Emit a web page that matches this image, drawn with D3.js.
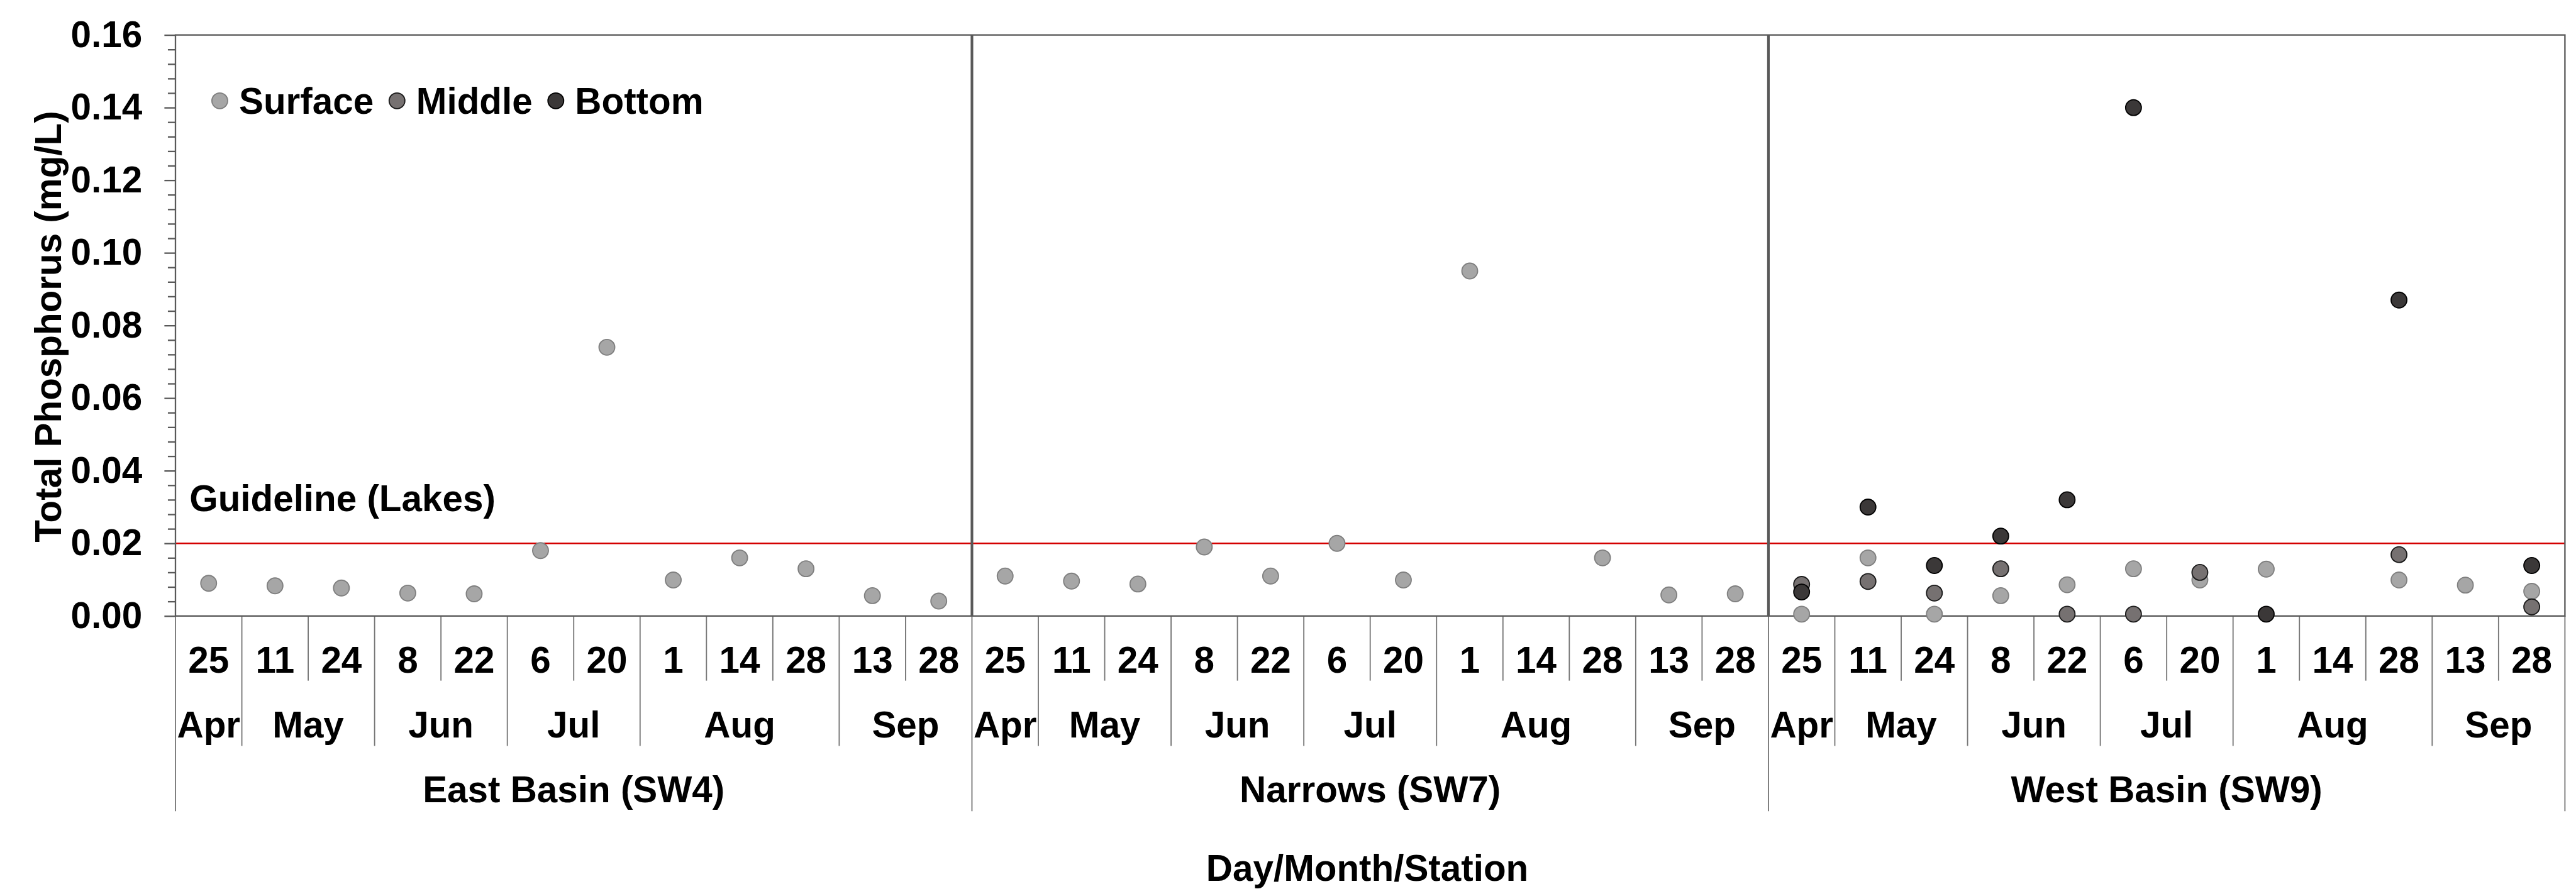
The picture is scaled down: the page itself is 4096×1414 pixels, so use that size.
<!DOCTYPE html>
<html>
<head>
<meta charset="utf-8">
<script src="https://cdn.jsdelivr.net/npm/d3@7"></script>
<style>
  html, body { margin: 0; padding: 0; background: #fff; }
  svg { display: block; }
  text { font-family: "Liberation Sans", Arial, sans-serif; font-weight: bold; fill: #000; }
</style>
</head>
<body>
<div id="chartContainer"></div>
<script>
// data
var stations = ["East Basin (SW4)", "Narrows (SW7)", "West Basin (SW9)"];
var days = ["25", "11", "24", "8", "22", "6", "20", "1", "14", "28", "13", "28"];
var months = ["Apr", "May", "May", "Jun", "Jun", "Jul", "Jul", "Aug", "Aug", "Aug", "Sep", "Sep"];
var yTicks = [0, 0.02, 0.04, 0.06, 0.08, 0.10, 0.12, 0.14, 0.16];
var guideline = 0.02;

// one value per station/date, null = not sampled
var surface = [
    0.009, 0.0083, 0.0077, 0.0063, 0.0061, 0.018, 0.074, 0.0099, 0.016, 0.013, 0.0056, 0.0041,
    0.011, 0.0096, 0.0088, 0.019, 0.011, 0.020, 0.0099, 0.095, null, 0.016, 0.0058, 0.0061,
    0.0005, 0.016, 0.0005, 0.0056, 0.0086, 0.013, 0.0099, 0.0129, null, 0.0099, 0.0085, 0.0068
];
var middle = [
    null, null, null, null, null, null, null, null, null, null, null, null,
    null, null, null, null, null, null, null, null, null, null, null, null,
    0.0087, 0.0095, 0.0063, 0.013, 0.0005, 0.0005, 0.012, null, null, 0.0169, null, 0.0025
];
var bottom = [
    null, null, null, null, null, null, null, null, null, null, null, null,
    null, null, null, null, null, null, null, null, null, null, null, null,
    0.0066, 0.030, 0.0139, 0.022, 0.032, 0.140, null, 0.0005, null, 0.087, null, 0.0139
];

var seriesNames = ["Surface", "Middle", "Bottom"];
var seriesData = [surface, middle, bottom];
var fills = ["#a6a6a6", "#767171", "#3b3838"];
var strokes = ["#7f7f7f", "#1a1a1a", "#000000"];

// layout in reference pixels, scaled down to the window at the end
var W = 4419, H = 1526;
var scale = 4096 / W;
var margin = { top: 60, right: 19, bottom: 469, left: 301 };
var plotRight = W - margin.right;
var plotBottom = H - margin.bottom;
var fontSize = 63;
var axisColor = "#595959";
var catColor = "#767676";

var nCat = stations.length * days.length;
var cats = d3.range(nCat);

var x = d3.scaleBand().domain(cats).range([margin.left, plotRight]).paddingInner(0).paddingOuter(0);
var y = d3.scaleLinear().domain([0, 0.16]).range([plotBottom, margin.top]);

function edge(i) {
    return i >= nCat ? x.range()[1] : x(i);
}

var svg = d3.select("#chartContainer")
    .append("svg")
    .attr("width", 4096)
    .attr("height", 1414)
    .append("g")
    .attr("transform", "scale(" + scale + ")");

// guideline
svg.append("line")
    .attr("x1", margin.left).attr("x2", plotRight)
    .attr("y1", y(guideline)).attr("y2", y(guideline))
    .style("stroke", "#d40000")
    .style("stroke-width", 2.5);

svg.append("text")
    .attr("x", 325)
    .attr("y", y(guideline) - 55)
    .style("font-size", fontSize + "px")
    .text("Guideline (Lakes)");

// minor y ticks
var minor = d3.range(0, 0.1601, 0.004).filter(function (v) {
    return Math.abs(Math.round(v / 0.02) * 0.02 - v) > 1e-6;
});
var yMinor = svg.append("g")
    .attr("transform", "translate(" + margin.left + ",0)")
    .call(d3.axisLeft(y).tickValues(minor).tickSize(13).tickFormat(""));

// major y ticks
var yAxis = svg.append("g")
    .attr("transform", "translate(" + margin.left + ",0)")
    .call(d3.axisLeft(y).tickValues(yTicks).tickSize(19).tickPadding(38).tickFormat(d3.format(".2f")));

[yMinor, yAxis].forEach(function (g) {
    g.select(".domain").remove();
    g.selectAll(".tick line").style("stroke", axisColor).style("stroke-width", 2.5);
});
yAxis.selectAll(".tick text")
    .style("font-size", fontSize + "px")
    .style("font-family", "'Liberation Sans', Arial, sans-serif")
    .style("font-weight", "bold")
    .attr("fill", "#000");

// y axis title
svg.append("text")
    .attr("transform", "translate(105," + ((margin.top + plotBottom) / 2 + 2) + ") rotate(-90)")
    .attr("text-anchor", "middle")
    .style("font-size", fontSize + "px")
    .text("Total Phosphorus (mg/L)");

// category axis: day, month and station levels
var dayLevel = 1168, monthLevel = 1280, stationLevel = 1392;
var cat = svg.append("g");

for (var i = 0; i <= nCat; i++) {
    var inDay = i % days.length;
    var bottomY = dayLevel;
    if (inDay === 0) bottomY = stationLevel;
    else if (months[inDay] !== months[inDay - 1]) bottomY = monthLevel;
    cat.append("line")
        .attr("x1", edge(i)).attr("x2", edge(i))
        .attr("y1", plotBottom).attr("y2", bottomY)
        .style("stroke", catColor)
        .style("stroke-width", 2);
}

cats.forEach(function (c) {
    cat.append("text")
        .attr("x", x(c) + x.bandwidth() / 2)
        .attr("y", 1154)
        .attr("text-anchor", "middle")
        .style("font-size", fontSize + "px")
        .text(days[c % days.length]);
});

stations.forEach(function (s, si) {
    var start = si * days.length;
    var j = 0;
    while (j < days.length) {
        var k = j;
        while (k + 1 < days.length && months[k + 1] === months[j]) k++;
        cat.append("text")
            .attr("x", (edge(start + j) + edge(start + k + 1)) / 2)
            .attr("y", 1265)
            .attr("text-anchor", "middle")
            .style("font-size", fontSize + "px")
            .text(months[j]);
        j = k + 1;
    }
    cat.append("text")
        .attr("x", (edge(start) + edge(start + days.length)) / 2)
        .attr("y", 1377)
        .attr("text-anchor", "middle")
        .style("font-size", fontSize + "px")
        .text(s);
});

svg.append("text")
    .attr("x", (margin.left + plotRight) / 2 - 5)
    .attr("y", 1511)
    .attr("text-anchor", "middle")
    .style("font-size", fontSize + "px")
    .text("Day/Month/Station");

// plot frame and station dividers
svg.append("rect")
    .attr("x", margin.left).attr("y", margin.top)
    .attr("width", plotRight - margin.left)
    .attr("height", plotBottom - margin.top)
    .style("fill", "none")
    .style("stroke", axisColor)
    .style("stroke-width", 2.5);

for (var s = 1; s < stations.length; s++) {
    svg.append("line")
        .attr("x1", edge(s * days.length)).attr("x2", edge(s * days.length))
        .attr("y1", margin.top).attr("y2", plotBottom)
        .style("stroke", axisColor)
        .style("stroke-width", 4.5);
}

// points
var r = 13.5;
seriesData.forEach(function (vals, si) {
    svg.append("g")
        .selectAll("circle")
        .data(cats.filter(function (c) { return vals[c] !== null; }))
        .enter()
        .append("circle")
        .attr("cx", function (c) { return x(c) + x.bandwidth() / 2; })
        .attr("cy", function (c) { return y(vals[c]); })
        .attr("r", r)
        .style("fill", fills[si])
        .style("stroke", strokes[si])
        .style("stroke-width", 2);
});

// legend
var legend = svg.append("g").attr("transform", "translate(377,173)");
var lx = 0;
seriesNames.forEach(function (name, si) {
    legend.append("circle")
        .attr("cx", lx).attr("cy", 0).attr("r", r)
        .style("fill", fills[si])
        .style("stroke", strokes[si])
        .style("stroke-width", 2);
    var t = legend.append("text")
        .attr("x", lx + 33)
        .attr("y", 22)
        .style("font-size", fontSize + "px")
        .text(name);
    lx = lx + 33 + t.node().getComputedTextLength() + 40;
});
</script>
</body>
</html>
